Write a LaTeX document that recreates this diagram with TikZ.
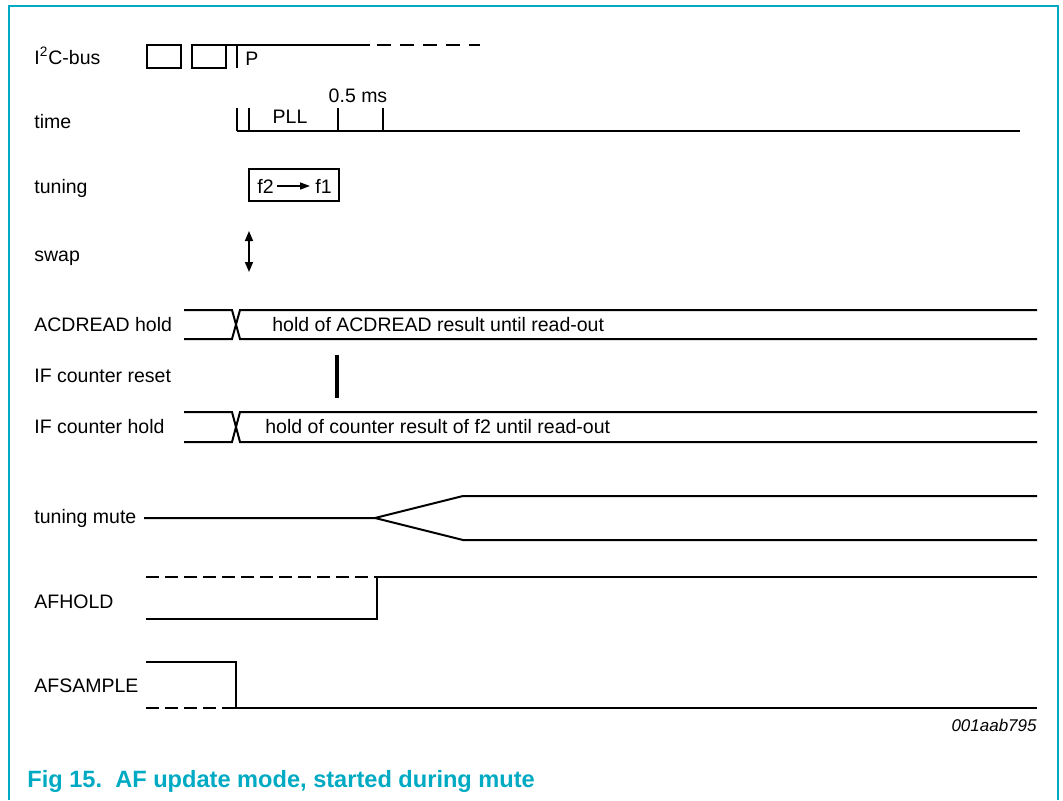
\documentclass[tikz,border=0pt]{standalone}
\usepackage{fontspec}
\setmainfont{Liberation Sans}
\usetikzlibrary{arrows.meta}
\definecolor{nxpteal}{RGB}{0,170,195}
\tikzset{
  lbl/.style={anchor=base west, inner sep=0pt, font=\fontsize{9.75}{12}\selectfont},
  wave/.style={line width=1pt, black},
  dashwave/.style={line width=1pt, black, dash pattern=on 6.5pt off 3pt},
  frame/.style={line width=1pt, nxpteal},
}
\begin{document}
\begin{tikzpicture}[x=0.5pt, y=-0.5pt]
\useasboundingbox (0,0) rectangle (1063,800);
% frame
\draw[frame] (8.5,800) -- (8.5,6) -- (1058,6) -- (1058,800);
% row labels
\node[lbl] (l1) at (34,64) {I\textsuperscript{2}C-bus};
\node[lbl] (l2) at (34,128) {time};
\node[lbl] (l3) at (34,193) {tuning};
\node[lbl] (l4) at (34,261) {swap};
\node[lbl] (l5) at (34,331) {ACDREAD hold};
\node[lbl] (l6) at (34,382) {IF counter reset};
\node[lbl] (l7) at (34,433) {IF counter hold};
\node[lbl] (l8) at (34,523) {tuning mute};
\node[lbl] (l9) at (34,608) {AFHOLD};
\node[lbl] (l10) at (34,692) {AFSAMPLE};
% I2C-bus
\draw[wave] (147,45) rectangle (181,68);
\draw[wave] (192,45) rectangle (226,68);
\draw[wave] (226,45) -- (370,45);
\draw[wave] (237,45) -- (237,68);
\draw[line width=1pt, dash pattern=on 7pt off 4.5pt] (377,45) -- (480,45);
\node[lbl] (p) at (245,65) {P};
% time
\draw[wave] (237,131) -- (1020,131);
\draw[wave] (237,108) -- (237,131);
\draw[wave] (249,108) -- (249,131);
\draw[wave] (338,108) -- (338,131);
\draw[wave] (383,108) -- (383,131);
\node[lbl, anchor=base] (pll) at (290,123) {PLL};
\node[lbl, anchor=base] (ms) at (358,102) {0.5 ms};
% tuning
\draw[wave] (249,169) rectangle (339,201);
\node[lbl] (f2) at (257,193) {f2};
\node[lbl] (f1) at (315,193) {f1};
\draw[line width=0.7pt, -{Triangle[length=5pt,width=3.5pt]}] (277,186) -- (310,186);
% swap
\draw[line width=0.8pt, {Triangle[length=5pt,width=4pt]}-{Triangle[length=5pt,width=4pt]}] (249,231) -- (249,272);
% ACDREAD hold
\draw[wave] (184,310) -- (232,310) -- (240,339) -- (1037,339);
\draw[wave] (184,339) -- (232,339) -- (240,310) -- (1037,310);
\node[lbl] (t1) at (272,331) {hold of ACDREAD result until read-out};
% IF counter reset
\draw[line width=1.8pt] (337,355) -- (337,398);
% IF counter hold
\draw[wave] (184,412) -- (232,412) -- (240,442) -- (1037,442);
\draw[wave] (184,442) -- (232,442) -- (240,412) -- (1037,412);
\node[lbl] (t2) at (265,433) {hold of counter result of f2 until read-out};
% tuning mute
\draw[wave] (144,518) -- (375,518) -- (463,496) -- (1037,496);
\draw[wave] (375,518) -- (463,540) -- (1037,540);
% AFHOLD
\draw[dashwave] (146,577) -- (377,577);
\draw[wave] (377,577) -- (1037,577);
\draw[wave] (146,619) -- (377,619) -- (377,577);
% AFSAMPLE
\draw[wave] (146,662) -- (236,662) -- (236,708) -- (1037,708);
\draw[dashwave] (146,708) -- (236,708);
% id and caption
\node[anchor=base east, inner sep=0pt, font=\fontsize{8.5}{10}\selectfont\itshape] (id) at (1037,731) {001aab795};
\node[anchor=base west, inner sep=0pt, font=\fontsize{11.8}{14}\selectfont\bfseries, text=nxpteal] (cap) at (27,787) {Fig 15.\ \ AF update mode, started during mute};
\end{tikzpicture}
\end{document}
